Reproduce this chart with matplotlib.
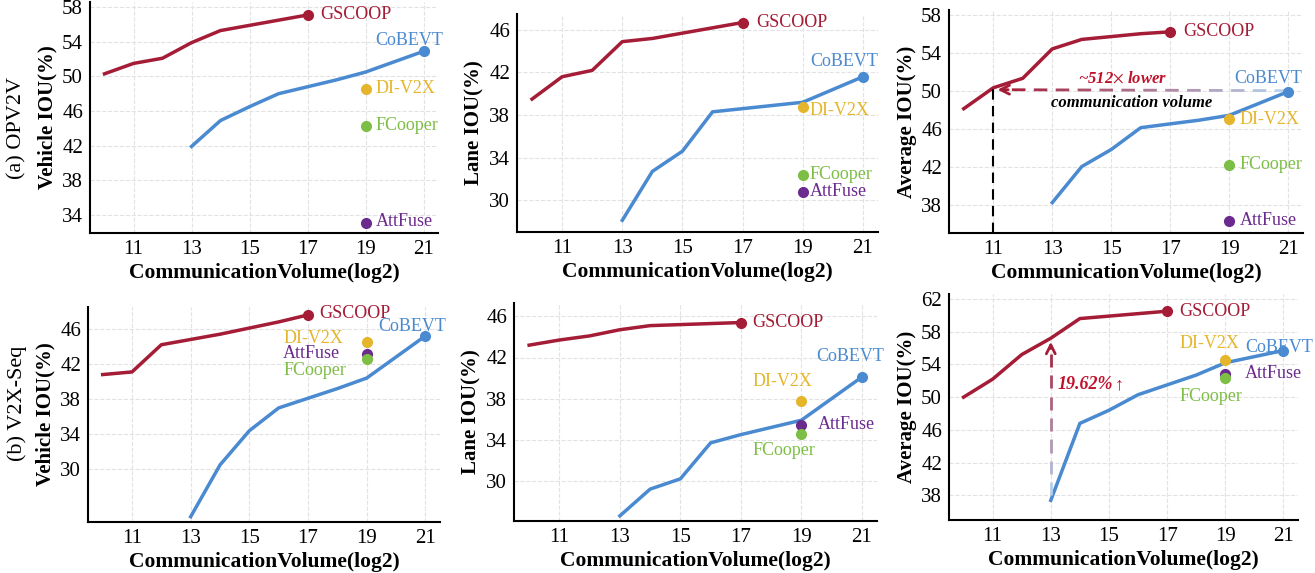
import numpy as np
import matplotlib
matplotlib.use("Agg")
import matplotlib.pyplot as plt
from matplotlib.colors import to_rgb

plt.rcParams['font.family'] = ['Liberation Serif', 'DejaVu Serif']
plt.rcParams['mathtext.fontset'] = 'stix'

# ---- data ----
gs_x = [10, 11, 12, 13, 14, 15, 16, 17]
cb_x = [13, 14, 15, 16, 17, 18, 19, 21]
pt_x = 19

opv_veh_gs = [50.3, 51.5, 52.1, 53.9, 55.3, 55.9, 56.5, 57.1]
opv_veh_cb = [41.9, 44.9, 46.5, 48.0, 48.8, 49.6, 50.5, 52.9]
opv_veh_pts = {'DI-V2X': 48.6, 'FCooper': 44.3, 'AttFuse': 33.0}

opv_lane_gs = [39.5, 41.6, 42.2, 44.9, 45.2, 45.7, 46.2, 46.7]
opv_lane_cb = [28.1, 32.7, 34.6, 38.3, 38.6, 38.9, 39.2, 41.6]
opv_lane_pts = {'DI-V2X': 38.8, 'FCooper': 32.4, 'AttFuse': 30.8}

opv_avg_gs = [48.1, 50.3, 51.3, 54.4, 55.4, 55.7, 56.0, 56.2]
opv_avg_cb = [38.2, 42.0, 43.8, 46.1, 46.5, 46.9, 47.4, 49.9]
opv_avg_pts = {'DI-V2X': 47.0, 'FCooper': 42.2, 'AttFuse': 36.3}

seq_veh_gs = [40.8, 41.1, 44.2, 44.8, 45.4, 46.1, 46.8, 47.6]
seq_veh_cb = [24.6, 30.5, 34.4, 37.0, 38.1, 39.2, 40.4, 45.2]
seq_veh_pts = {'DI-V2X': 44.5, 'AttFuse': 43.2, 'FCooper': 42.6}

seq_lane_gs = [43.2, 43.7, 44.1, 44.7, 45.1, 45.2, 45.3, 45.4]
seq_lane_cb = [26.6, 29.2, 30.2, 33.7, 34.5, 35.2, 35.9, 40.1]
seq_lane_pts = {'DI-V2X': 37.8, 'AttFuse': 35.4, 'FCooper': 34.6}

seq_avg_gs = [50.0, 52.2, 55.2, 57.2, 59.6, 59.9, 60.2, 60.5]
seq_avg_cb = [37.4, 46.8, 48.4, 50.3, 51.5, 52.7, 54.2, 55.7]
seq_avg_pts = {'DI-V2X': 54.6, 'AttFuse': 52.8, 'FCooper': 52.3}

RED = '#A51C36'
BLUE = '#4A8AD0'
LBLUE = '#B5D6F2'
cols = {'DI-V2X': '#E5B52C', 'FCooper': '#7DBE45', 'AttFuse': '#6B2A8E'}

W, H = 1315, 573
fig = plt.figure(figsize=(W / 100, H / 100), dpi=100)


def box(l, t, r, b):
    return [l / W, 1 - b / H, (r - l) / W, (b - t) / H]


def grad_dash(ax, p0, p1, c0, c1, n, frac=0.62, lw=2):
    c0, c1 = np.array(to_rgb(c0)), np.array(to_rgb(c1))
    t = np.linspace(0, 1, n + 1)
    for i in range(n):
        a = t[i]
        b = t[i] + (t[i + 1] - t[i]) * frac
        m = (a + b) / 2
        ax.plot([p0[0] + (p1[0] - p0[0]) * a, p0[0] + (p1[0] - p0[0]) * b],
                [p0[1] + (p1[1] - p0[1]) * a, p0[1] + (p1[1] - p0[1]) * b],
                color=c0 + (c1 - c0) * m, lw=lw, solid_capstyle='butt', zorder=4)


def panel(pos, gs, cb, pts, ylim, yticks, ylabel, gs_lab, cb_lab, pt_labs):
    ax = fig.add_axes(box(*pos))
    ax.plot(gs_x, gs, color=RED, lw=2.5, zorder=3)
    ax.plot(gs_x[-1], gs[-1], 'o', color=RED, ms=7, zorder=5)
    ax.plot(cb_x, cb, color=BLUE, lw=2.5, zorder=3)
    ax.plot(cb_x[-1], cb[-1], 'o', color=BLUE, ms=7, zorder=5)
    for k, v in pts.items():
        ax.plot(pt_x, v, 'o', color=cols[k], ms=7, zorder=5)
    ax.text(gs_lab[0], gs_lab[1], 'GSCOOP', color=RED, fontsize=13, va='center')
    ax.text(cb_lab[0], cb_lab[1], 'CoBEVT', color=BLUE, fontsize=13, va='center')
    for k, (x, y) in pt_labs.items():
        ax.text(x, y, k, color=cols[k], fontsize=13, va='center')
    ax.set_xlim(9.5, 21.5)
    ax.set_ylim(*ylim)
    ax.set_xticks([11, 13, 15, 17, 19, 21])
    ax.set_yticks(yticks)
    ax.tick_params(labelsize=15, length=0, pad=5)
    ax.grid(True, ls='--', color='#E2E2E2', lw=0.8)
    ax.set_axisbelow(True)
    for s in ['top', 'right']:
        ax.spines[s].set_visible(False)
    for s in ['left', 'bottom']:
        ax.spines[s].set_linewidth(1.5)
    ax.set_xlabel('CommunicationVolume(log2)', fontsize=15.5, fontweight='bold', labelpad=3)
    ax.set_ylabel(ylabel, fontsize=15, fontweight='bold', labelpad=3)
    return ax


panel((90, 2, 438, 233), opv_veh_gs, opv_veh_cb, opv_veh_pts, (31.9, 58.6),
      [34, 38, 42, 46, 50, 54, 58], 'Vehicle IOU(%)', (17.45, 57.1), (19.35, 54.2),
      {'DI-V2X': (19.35, 48.6), 'FCooper': (19.35, 44.3), 'AttFuse': (19.35, 33.2)})

panel((517, 14, 878, 232), opv_lane_gs, opv_lane_cb, opv_lane_pts, (27.0, 47.5),
      [30, 34, 38, 42, 46], 'Lane IOU(%)', (17.45, 46.7), (19.25, 43.0),
      {'DI-V2X': (19.22, 38.4), 'FCooper': (19.22, 32.4), 'AttFuse': (19.22, 30.8)})

ax3 = panel((949, 10, 1303, 233), opv_avg_gs, opv_avg_cb, opv_avg_pts, (35.0, 58.5),
            [38, 42, 46, 50, 54, 58], 'Average IOU(%)', (17.45, 56.2), (19.16, 51.3),
            {'DI-V2X': (19.35, 47.0), 'FCooper': (19.35, 42.2), 'AttFuse': (19.35, 36.3)})
grad_dash(ax3, (21, 50.0), (11.35, 50.1), LBLUE, RED, 13)
ax3.annotate('', xy=(11.05, 50.1), xytext=(11.6, 50.1),
             arrowprops=dict(arrowstyle='->', color=RED, lw=2, mutation_scale=16), zorder=6)
ax3.plot([11, 11], [35.0, 50.2], color='black', lw=1.5, ls=(0, (5, 3)), zorder=4)
ax3.text(15.4, 51.25, '~512$\\times$ lower', color='#C0102A', fontsize=12,
         fontweight='bold', style='italic', ha='center', va='center')
ax3.text(15.7, 48.75, 'communication volume', color='black', fontsize=12,
         fontweight='bold', style='italic', ha='center', va='center')

panel((88, 307, 440, 522), seq_veh_gs, seq_veh_cb, seq_veh_pts, (24.0, 48.5),
      [30, 34, 38, 42, 46], 'Vehicle IOU(%)', (17.4, 47.8), (19.38, 46.3),
      {'DI-V2X': (16.15, 44.9), 'AttFuse': (16.15, 43.15), 'FCooper': (16.15, 41.25)})

panel((514, 303, 877, 521), seq_lane_gs, seq_lane_cb, seq_lane_pts, (26.1, 47.3),
      [30, 34, 38, 42, 46], 'Lane IOU(%)', (17.38, 45.4), (19.5, 42.1),
      {'DI-V2X': (17.37, 39.7), 'AttFuse': (19.56, 35.5), 'FCooper': (17.37, 33.0)})

ax6 = panel((949, 294, 1298, 520), seq_avg_gs, seq_avg_cb, seq_avg_pts, (35.0, 62.6),
            [38, 42, 46, 50, 54, 58, 62], 'Average IOU(%)', (17.42, 60.5), (19.7, 56.1),
            {'DI-V2X': (17.42, 56.5), 'AttFuse': (19.66, 52.9), 'FCooper': (17.42, 50.1)})
grad_dash(ax6, (13, 38.0), (13, 56.3), LBLUE, RED, 7)
ax6.annotate('', xy=(13, 57.1), xytext=(13, 55.6),
             arrowprops=dict(arrowstyle='->', color=RED, lw=2, mutation_scale=16), zorder=6)
ax6.text(13.25, 51.5, '19.62%', color='#C0102A', fontsize=13, fontweight='bold',
         style='italic', va='center')
ax6.text(15.2, 51.5, '\u2191', color='#C0102A', fontsize=13, va='center')

fig.text(17 / W, 1 - 128 / H, '(a) OPV2V', rotation=90, fontsize=16, ha='center', va='center')
fig.text(17 / W, 1 - 403 / H, '(b) V2X-Seq', rotation=90, fontsize=16, ha='center', va='center')

fig.savefig('out.png', dpi=100)
